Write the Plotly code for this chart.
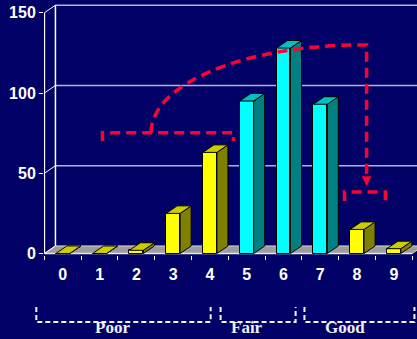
import plotly.graph_objects as go

# ---- data -------------------------------------------------------------
categories = [0, 1, 2, 3, 4, 5, 6, 7, 8, 9]
counts = [0, 0, 2, 25, 63, 95, 128, 93, 15, 3]
groups = ["Poor"] * 5 + ["Fair"] * 3 + ["Good"] * 2
y_ticks = [0, 50, 100, 150]

# group brackets under the axis (category units) and their captions
bracket_names = ["Poor", "Fair", "Good"]
bracket_left = [-0.72, 4.29, 6.57]
bracket_right = [4.02, 6.33, 9.56]
caption_x = [1.35, 5.02, 7.66]

# ---- styling ----------------------------------------------------------
BG = "#000066"
FRONT = {"Poor": "#ffff00", "Fair": "#00ffff", "Good": "#ffff00"}
TOP = {"Poor": "#cccc00", "Fair": "#00c0c0", "Good": "#cccc00"}
SIDE = {"Poor": "#808000", "Fair": "#008080", "Good": "#808000"}
RED = "#ff0033"
GRID = "#b4b4d2"

BAR_W = 0.38      # bar width in category units
DX = 0.30         # depth offset (category units)
DY = 4.7          # depth offset (value units)
X0 = -0.5         # front axis position

W, H = 417, 339
ML, MB = 44, 84
X_RANGE = [-0.511, 9.63]
Y_RANGE = [-0.93, 157.95]

fig = go.Figure()

# front faces
fig.add_trace(go.Bar(
    x=categories, y=counts, width=BAR_W,
    marker=dict(color=[FRONT[g] for g in groups],
                line=dict(color="black", width=1)),
    hoverinfo="skip", showlegend=False,
))

# side and top faces, one filled trace per colour
def faces(kind, group_color):
    traces = {}
    for c, v, g in zip(categories, counts, groups):
        col = group_color[g]
        xl, xr = c - BAR_W / 2, c + BAR_W / 2
        if kind == "side":
            px = [xr, xr + DX, xr + DX, xr, xr]
            py = [0, DY, v + DY, v, 0]
        else:
            px = [xl, xr, xr + DX, xl + DX, xl]
            py = [v, v, v + DY, v + DY, v]
        xs, ys = traces.setdefault(col, ([], []))
        xs.extend(px + [None])
        ys.extend(py + [None])
    for col, (xs, ys) in traces.items():
        fig.add_trace(go.Scatter(
            x=xs, y=ys, mode="lines", fill="toself", fillcolor=col,
            line=dict(color="black", width=1),
            hoverinfo="skip", showlegend=False,
        ))

faces("side", SIDE)
faces("top", TOP)

shapes = []
x_end = X_RANGE[1] + 1

# floor
shapes.append(dict(
    type="path", xref="x", yref="y", layer="below",
    path=f"M {X0},0 L 9.5,0 L {9.5 + DX},{DY} L {x_end},{DY} "
         f"L {X0 + DX},{DY} Z",
    fillcolor="#9c9c9c", line=dict(color="#d8d8d8", width=1),
))
shapes.append(dict(type="line", xref="x", yref="y", layer="below",
                   x0=X0, x1=9.5, y0=0, y1=0,
                   line=dict(color="#e6e6e6", width=1.5)))

# back wall: gridlines, corner edges and vertical edge
for v in y_ticks[1:]:
    shapes.append(dict(type="line", xref="x", yref="y", layer="below",
                       x0=X0 + DX, x1=x_end, y0=v + DY, y1=v + DY,
                       line=dict(color=GRID, width=1.5)))
for v in y_ticks:
    shapes.append(dict(type="line", xref="x", yref="y", layer="below",
                       x0=X0, x1=X0 + DX, y0=v, y1=v + DY,
                       line=dict(color="white", width=1)))
shapes.append(dict(type="line", xref="x", yref="y", layer="below",
                   x0=X0 + DX, x1=X0 + DX, y0=DY, y1=y_ticks[-1] + DY,
                   line=dict(color="white", width=1.5)))
# front value axis
shapes.append(dict(type="line", xref="x", yref="y", layer="below",
                   x0=X0, x1=X0, y0=0, y1=y_ticks[-1],
                   line=dict(color="white", width=1.5)))

# red dashed callouts
red_line = dict(color=RED, width=3.5, dash="10px,6px")
shapes.append(dict(type="path", xref="x", yref="y",
                   path="M 1.08,70.1 L 1.08,75.3 L 4.64,75.3 L 4.64,70.1",
                   line=red_line))
arc_x0, arc_y0, arc_x1, arc_y1 = 2.40, 75.3, 8.07, 129.9
k = 0.5523
shapes.append(dict(
    type="path", xref="x", yref="y",
    path=(f"M {arc_x0},{arc_y0} "
          f"C {arc_x0},{arc_y0 + k * (arc_y1 - arc_y0)} "
          f"{arc_x1 - k * (arc_x1 - arc_x0)},{arc_y1} {arc_x1},{arc_y1} "
          f"L 8.26,{arc_y1} L 8.26,45"),
    line=red_line))
shapes.append(dict(type="path", xref="x", yref="y",
                   path="M 7.66,32.7 L 7.66,38.3 L 8.77,38.3 L 8.77,32.7",
                   line=red_line))

# group brackets below the category labels (paper coordinates, unclipped)
plot_h = H - MB
def paper_y(py):
    return (plot_h - py) / plot_h

def paper_x(cat):
    return (cat - X_RANGE[0]) / (X_RANGE[1] - X_RANGE[0])

b_top, b_bot = paper_y(307), paper_y(322)
for xl, xr in zip(bracket_left, bracket_right):
    pl, pr = paper_x(xl), paper_x(xr)
    shapes.append(dict(
        type="path", xref="paper", yref="paper",
        path=f"M {pl},{b_top} L {pl},{b_bot} L {pr},{b_bot} L {pr},{b_top}",
        line=dict(color="#f4f4f4", width=2, dash="5px,3px")))

annotations = [dict(
    x=8.26, y=42, xref="x", yref="y", text="", showarrow=True,
    ax=0, ay=-8, arrowhead=2, arrowsize=0.65, arrowwidth=3, arrowcolor=RED)]
for name, cx in zip(bracket_names, caption_x):
    annotations.append(dict(
        x=cx, y=paper_y(327.5), xref="x", yref="paper", text=name,
        showarrow=False, xanchor="center", yanchor="middle",
        font=dict(family="Liberation Serif, Times New Roman, serif",
                  size=17, color="#eeeeee", weight="bold")))

fig.update_layout(
    width=W, height=H,
    margin=dict(l=ML, r=0, t=0, b=MB, pad=0),
    paper_bgcolor=BG, plot_bgcolor=BG,
    shapes=shapes, annotations=annotations,
    bargap=0, showlegend=False,
    xaxis=dict(
        range=X_RANGE, showgrid=False, zeroline=False, showline=False,
        tickmode="array", tickvals=categories,
        ticktext=[str(c) for c in categories],
        ticks="", ticklabelstandoff=8,
        tickfont=dict(family="Arial, Liberation Sans, sans-serif",
                      size=16, color="white", weight="bold"),
        minor=dict(tickmode="array",
                   tickvals=[c - 0.5 for c in categories] + [categories[-1] + 0.5],
                   ticks="outside", ticklen=4, tickcolor="white", tickwidth=1,
                   showgrid=False),
    ),
    yaxis=dict(
        range=Y_RANGE, showgrid=False, zeroline=False, showline=False,
        tickmode="array", tickvals=y_ticks,
        ticks="outside", ticklen=4, tickcolor="white", tickwidth=1,
        tickfont=dict(family="Arial, Liberation Sans, sans-serif",
                      size=16, color="white", weight="bold"),
    ),
)

fig.write_html("out.html", config={"displayModeBar": False})
